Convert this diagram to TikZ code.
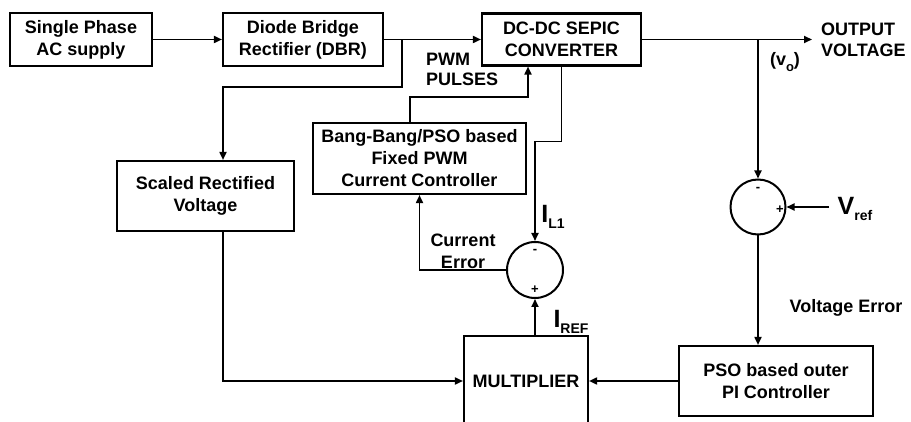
\documentclass[tikz,border=0pt]{standalone}
\usepackage{fontspec}
\setmainfont{Liberation Sans}
\usetikzlibrary{arrows.meta,positioning}
\tikzset{
  ar/.style={-{Triangle[length=8pt,width=7pt]},line width=1.7pt},
  box/.style={draw,line width=2.1pt,align=center,inner sep=2pt,font=\fontsize{18}{22}\selectfont\bfseries},
  sumc/.style={draw,circle,line width=2pt,minimum size=55pt,inner sep=0pt},
  lbl/.style={font=\fontsize{18}{22}\selectfont\bfseries,align=center,inner sep=0pt},
  sgn/.style={font=\fontsize{13}{13}\selectfont\bfseries,inner sep=0pt}
}
\newcommand{\bigsym}[2]{{\fontsize{25}{25}\selectfont #1}\raisebox{-0.55ex}{\fontsize{14}{14}\selectfont #2}}

\begin{document}
\begin{tikzpicture}[x=1pt,y=-1pt]
\useasboundingbox (0,0) rectangle (911,422);
% blocks
\node[box,minimum width=142pt,minimum height=53pt] (supply) at (81,39.5) {Single Phase\\AC supply};
\node[box,minimum width=160pt,minimum height=53pt] (dbr) at (303,39.5) {Diode Bridge\\Rectifier (DBR)};
\node[box,minimum width=159pt,minimum height=52pt] (sepic) at (561.5,39.5) {DC-DC SEPIC\\CONVERTER};
\node[box,minimum width=213pt,minimum height=71pt] (bang) at (419.5,158.5) {Bang-Bang/PSO based\\Fixed PWM\\Current Controller};
\node[box,minimum width=177pt,minimum height=70pt] (scaled) at (205.5,196) {Scaled Rectified\\Voltage};
\node[box,minimum width=124pt,minimum height=90pt] (mult) at (526,381) {MULTIPLIER};
\node[box,minimum width=194pt,minimum height=70pt] (pso) at (776,381) {PSO based outer\\PI Controller};
\node[sumc,minimum size=56pt] (sum1) at (535,270) {};
\node[sumc] (sum2) at (758,207) {};
% signs
\node[sgn] (m1) at (535,251) {-};
\node[sgn] (p1) at (535,290) {+};
\node[sgn] (m2) at (758,189) {-};
\node[sgn] (p2) at (780,210) {+};
% labels
\node[lbl,align=left,anchor=west,font=\fontsize{18}{21}\selectfont\bfseries] (outtxt) at (821,40) {OUTPUT\\VOLTAGE};
\node[lbl] (votxt) at (785,62) {(v\raisebox{-0.55ex}{\fontsize{13}{13}\selectfont o})};
\node[lbl,align=left,anchor=west,font=\fontsize{18}{20}\selectfont\bfseries] (pwmtxt) at (426,69) {PWM\\PULSES};
\node[lbl] (cetxt) at (463,251) {Current\\Error};
\node[lbl] (vetxt) at (846,308) {Voltage Error};
\node[lbl] (il1) at (553,217) {\bigsym{I}{L1}};
\node[lbl] (vref) at (855,209) {\bigsym{V}{ref}};
\node[lbl] (iref) at (571,322) {\bigsym{I}{REF}};
% helper points
\coordinate (tap1) at (402,39.5);
\coordinate (bend1) at (223,87);
\coordinate (pwm1) at (410,97);
\coordinate (pwm2) at (528,97);
\coordinate (vout) at (812,39.5);
\coordinate (vrefin) at (829,207);
% connectors
\draw[ar] (supply) -- (dbr);
\draw[ar] (dbr) -- (sepic);
\draw[ar] (tap1) |- (bend1) -- (bend1 |- scaled.north);
\draw[ar] (bend1 |- scaled.south) |- (mult.west);
\draw[ar] (pwm1 |- bang.north) -- (pwm1) -- (pwm2) -- (pwm2 |- sepic.south);
\draw[ar] (sepic.south) -- ++(0,75) -| (sum1.north);
\draw[ar] (sum1.west) -| (bang.south);
\draw[ar] (sum1 |- mult.north) -- (sum1.south);
\draw[ar] (pso) -- (mult);
\draw[ar] (sepic.east) -- (vout);
\draw[ar] (sum2 |- sepic.east) -- (sum2.north);
\draw[ar] (vrefin) -- (sum2.east);
\draw[ar] (sum2.south) -- (sum2 |- pso.north);
\end{tikzpicture}
\end{document}
